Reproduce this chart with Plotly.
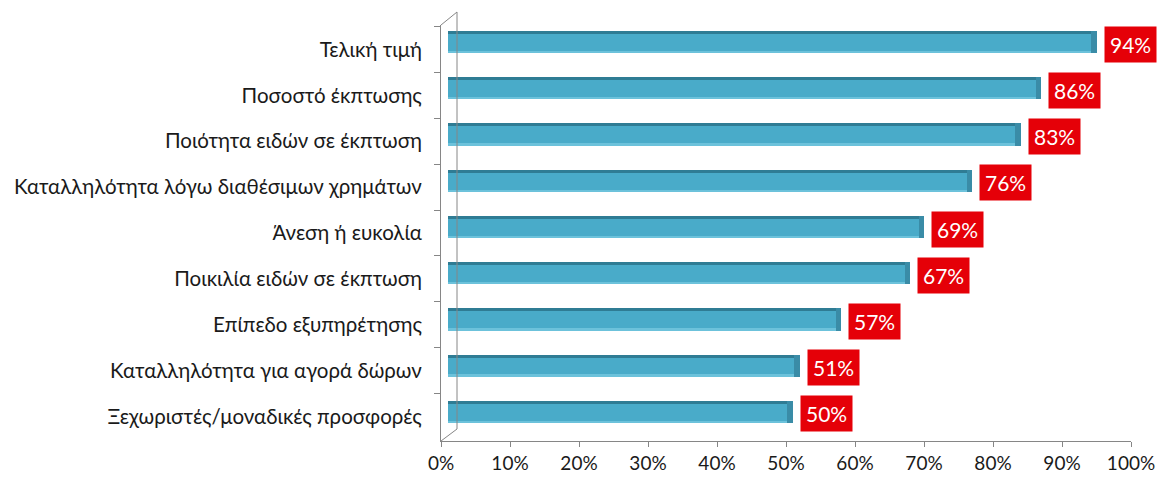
import plotly.graph_objects as go

# Survey: reasons for choosing a store during sales (share of respondents, %)
categories = [
    "Τελική τιμή",
    "Ποσοστό έκπτωσης",
    "Ποιότητα ειδών σε έκπτωση",
    "Καταλληλότητα λόγω διαθέσιμων χρημάτων",
    "Άνεση ή ευκολία",
    "Ποικιλία ειδών σε έκπτωση",
    "Επίπεδο εξυπηρέτησης",
    "Καταλληλότητα για αγορά δώρων",
    "Ξεχωριστές/μοναδικές προσφορές",
]
values = [94, 86, 83, 76, 69, 67, 57, 51, 50]
x_ticks = [0, 10, 20, 30, 40, 50, 60, 70, 80, 90, 100]
x_tick_text = [f"{t}%" for t in x_ticks]

FONT = "Lato, 'Noto Sans', sans-serif"
AXIS_GREY = "#868686"
TEXT = "#1a1a1a"

W, H = 1157, 479
L, R, T, B = 441, 10, 12, 38
PW, PH = W - L - R, H - T - B          # paper area in px
FRONT_W, FRONT_H = 690, 416            # front plane of the 3-D frame
DX, DY = 16, 12                        # depth offset of the back wall
MX, MY = 7, 6                          # bars sit mid-depth

def fx(px):
    return px / PW

def fy(px):
    return px / PH

BAR_W = 0.48
CAP = 0.8                              # shaded end cap length, in % units
body = "#49abc9"
top_edge = "#2f7c94"
bottom_edge = "#6cc2db"
end_cap = "#3a8ca7"

fig = go.Figure()

# front plane: carries the visible axes and labels
fig.add_trace(go.Scatter(
    x=values, y=categories, mode="markers", marker=dict(opacity=0),
    hoverinfo="skip", showlegend=False, xaxis="x", yaxis="y"))

# cylinder body
fig.add_trace(go.Bar(
    x=values, y=categories, orientation="h", width=BAR_W,
    marker=dict(color=body, line=dict(width=0)),
    xaxis="x2", yaxis="y2", showlegend=False, hoverinfo="skip"))
# light lower rim
fig.add_trace(go.Bar(
    x=values, y=categories, orientation="h", width=0.04,
    offset=BAR_W / 2 - 0.04,
    marker=dict(color=bottom_edge, line=dict(width=0)),
    xaxis="x2", yaxis="y2", showlegend=False, hoverinfo="skip"))
# dark upper rim
fig.add_trace(go.Bar(
    x=values, y=categories, orientation="h", width=0.065,
    offset=-BAR_W / 2,
    marker=dict(color=top_edge, line=dict(width=0)),
    xaxis="x2", yaxis="y2", showlegend=False, hoverinfo="skip"))
# shaded end cap, inside the bar's own length
fig.add_trace(go.Bar(
    x=[CAP] * len(values), base=[v - CAP for v in values], y=categories,
    orientation="h", width=BAR_W,
    marker=dict(color=end_cap, line=dict(width=0)),
    xaxis="x2", yaxis="y2", showlegend=False, hoverinfo="skip"))

# value labels in red boxes
for cat, v in zip(categories, values):
    fig.add_annotation(
        x=v, y=cat, xref="x2", yref="y2", text=f"{v}%",
        showarrow=False, xanchor="left", xshift=7, yshift=-2,
        bgcolor="#e50008", borderpad=5,
        font=dict(family=FONT, size=21, color="#ffffff"))

# 3-D frame: back wall and depth diagonals
frame = dict(color=AXIS_GREY, width=1)
x_back0 = fx(DX)
fig.add_shape(type="line", xref="paper", yref="paper",
              x0=x_back0, x1=x_back0, y0=fy(DY), y1=1, line=frame)
fig.add_shape(type="line", xref="paper", yref="paper",
              x0=0, x1=x_back0, y0=fy(FRONT_H), y1=1, line=frame)
fig.add_shape(type="line", xref="paper", yref="paper",
              x0=0, x1=x_back0, y0=0, y1=fy(DY), line=frame)

fig.update_layout(
    width=W, height=H,
    margin=dict(l=L, r=R, t=T, b=B),
    paper_bgcolor="white", plot_bgcolor="rgba(0,0,0,0)",
    barmode="overlay", bargap=0,
    font=dict(family=FONT, size=20, color=TEXT),
    xaxis=dict(
        domain=[0, fx(FRONT_W)], range=[0, 100],
        tickvals=x_ticks, ticktext=x_tick_text,
        showgrid=False, zeroline=False, automargin=False,
        showline=True, linecolor=AXIS_GREY, linewidth=1,
        ticks="outside", ticklen=5, tickcolor=AXIS_GREY,
        tickfont=dict(size=19, color=TEXT), anchor="y"),
    yaxis=dict(
        domain=[0, fy(FRONT_H)], type="category",
        categoryarray=categories, autorange="reversed",
        showgrid=False, zeroline=False, automargin=False,
        showline=True, linecolor=AXIS_GREY, linewidth=1,
        ticks="outside", ticklen=6, tickcolor=AXIS_GREY,
        tickson="boundaries", ticklabelstandoff=14,
        tickfont=dict(size=20.5, color=TEXT), anchor="x"),
    xaxis2=dict(
        domain=[fx(MX), fx(FRONT_W + MX)], range=[0, 100],
        visible=False, anchor="y2"),
    yaxis2=dict(
        domain=[fy(MY), fy(FRONT_H + MY)], type="category",
        categoryarray=categories, autorange="reversed",
        visible=False, anchor="x2"),
)

fig.write_html("out.html")
